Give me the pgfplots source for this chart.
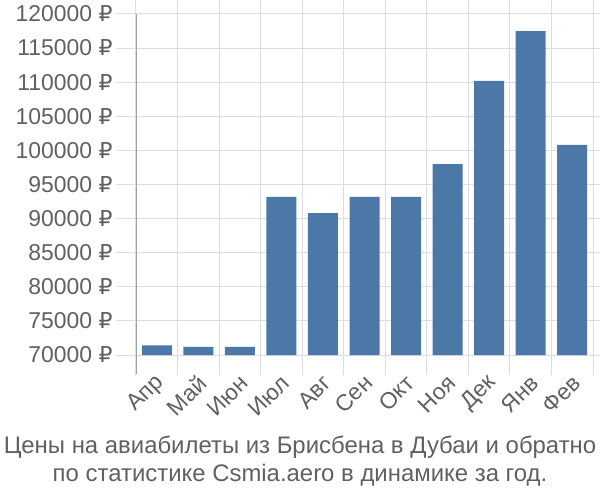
\documentclass[border=0pt]{standalone}
\usepackage{pgfplots}
\pgfplotsset{compat=1.18}
\usepackage{fontspec}
\setmainfont{Liberation Sans}
\newfontfamily\rub{DejaVu Sans}
\definecolor{barc}{RGB}{76,120,168}
\definecolor{txt}{RGB}{96,96,96}
\definecolor{grd}{RGB}{221,221,221}
\definecolor{axc}{RGB}{160,160,160}
\begin{document}
\begin{tikzpicture}
\begin{axis}[
  scale only axis, width=457bp, height=341bp,
  xmin=-0.5, xmax=10.5, ymin=70000, ymax=120000,
  axis line style={draw=none},
  scaled y ticks=false,
  /pgf/number format/assume math mode=true,
  ytick={70000,75000,...,120000},
  yticklabel={\pgfmathprintnumber[fixed,precision=0,1000 sep={}]{\tick}~{\rub\fontsize{22}{26}\selectfont ₽}},
  yticklabel style={font=\fontsize{23}{27}\selectfont, text=txt},
  ymajorgrids, xmajorgrids,
  grid style={grd, line width=1bp},
  tick style={grd, line width=1bp},
  tick align=outside, major tick length=20bp,
  xtick={-0.5,0.5,...,10.5}, xticklabels={},
  extra x ticks={0,1,2,3,4,5,6,7,8,9,10},
  extra x tick labels={Апр,Май,Июн,Июл,Авг,Сен,Окт,Ноя,Дек,Янв,Фев},
  extra x tick style={major tick length=0pt, xmajorgrids=false,
    xticklabel style={font=\fontsize{23}{27}\selectfont, text=txt, rotate=45, anchor=east, yshift=-20bp, xshift=-11bp}},
  ybar, bar width=30bp,
]
\addplot[fill=barc, draw=none] coordinates {
 (0,71400) (1,71200) (2,71200) (3,93200) (4,90800) (5,93200)
 (6,93200) (7,98000) (8,110200) (9,117500) (10,100800)};
\coordinate (ltop) at (axis cs:-0.5,120000);
\coordinate (lbot) at (axis cs:-0.5,70000);
\coordinate (sw) at (rel axis cs:0,0);
\end{axis}
\draw[axc, line width=1bp] (ltop) -- ([yshift=-19bp]lbot);
\node[text=txt, font=\fontsize{24}{29}\selectfont, align=center, anchor=north]
  at ([xshift=164bp, yshift=-77bp]sw) {Цены на авиабилеты из Брисбена в Дубаи и обратно\\по статистике Csmia.aero в динамике за год.};
\pgfresetboundingbox
\path[use as bounding box] ([xshift=-136bp, yshift=-145bp]sw) rectangle ([xshift=464bp, yshift=355bp]sw);
\end{tikzpicture}
\end{document}
